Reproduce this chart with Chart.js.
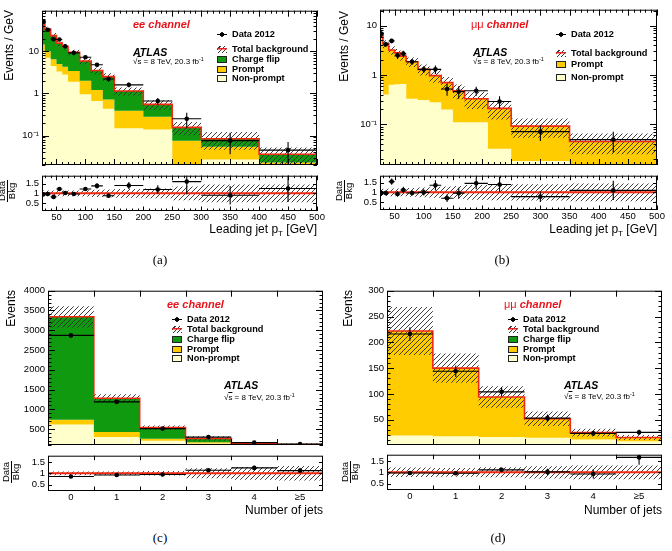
<!DOCTYPE html>
<html lang="en">
<head>
<meta charset="UTF-8">
<title>Same-sign dilepton control regions</title>
<script src="https://cdn.jsdelivr.net/npm/chart.js"></script>
<style>
  body { margin: 0; background: #fff; }
  #fig { position: relative; width: 672px; height: 551px; overflow: hidden; background: #fff;
         font-family: "Liberation Sans", Arial, sans-serif; color: #000; }
  #fig canvas { position: absolute; }
  .vt { position: absolute; writing-mode: vertical-rl; transform: rotate(180deg); font-size: 12px; line-height: 13px; white-space: nowrap; }
  .xt { position: absolute; font-size: 12px; line-height: 14px; white-space: nowrap; }
  .xt sub { font-size: 8px; vertical-align: -3px; line-height: 0; }
  .frac { position: absolute; width: 30px; height: 18px; transform: rotate(-90deg); font-size: 9.5px; line-height: 8.5px; text-align: center; }
  .frac span { display: inline-block; border-bottom: 1px solid #000; padding: 0 1px; line-height: 8.5px; }
  .cap { position: absolute; width: 24px; text-align: center; font: 13px "Liberation Serif", "Times New Roman", serif; line-height: 14px; color: #000; }
  .chan { position: absolute; color: #e8141b; font-style: italic; font-weight: bold; font-size: 11px; line-height: 13px; white-space: nowrap; }
  .chan span { font-style: normal; font-weight: normal; }
  .atlas { position: absolute; font-style: italic; font-weight: bold; font-size: 10.5px; line-height: 12px; }
  .lumi { position: absolute; font-size: 8px; line-height: 10px; white-space: nowrap; }
  .lumi sup { font-size: 5.5px; vertical-align: 3px; line-height: 0; }
  .ov { text-decoration: overline; }
  .lg { position: absolute; display: flex; align-items: center; height: 10px; font-weight: bold; font-size: 9.2px; white-space: nowrap; }
  .sym { display: inline-block; width: 10px; height: 7px; margin-right: 5px; box-sizing: border-box; }
  .box { border: 1px solid #222; }
  .dat { background: radial-gradient(circle, #000 0 2px, transparent 2.4px), linear-gradient(#000, #000) center / 100% 1px no-repeat; }
  .tot { background: linear-gradient(#e22, #e22) center / 100% 1.5px no-repeat, repeating-linear-gradient(-45deg, #333 0 1px, transparent 1px 3px); }
</style>
</head>
<body>
<div id="fig">
  <canvas id="mainA"></canvas><canvas id="ratioA"></canvas>
  <canvas id="mainB"></canvas><canvas id="ratioB"></canvas>
  <canvas id="mainC"></canvas><canvas id="ratioC"></canvas>
  <canvas id="mainD"></canvas><canvas id="ratioD"></canvas>

  <!-- (a) -->
  <div class="vt" style="left:3px;top:10px">Events / GeV</div>
  <div class="frac" style="left:-8px;top:182px"><span>Data</span><br>Bkg</div>
  <div class="xt" style="right:355px;top:222px">Leading jet p<sub>T</sub> [GeV]</div>
  <div class="cap" style="left:148px;top:253px">(a)</div>
  <div class="chan" style="left:133px;top:18px">ee channel</div>
  <div class="atlas" style="left:133px;top:46px">ATLAS</div>
  <div class="lumi" style="left:133px;top:57px">√<span class="ov">s</span> = 8 TeV, 20.3 fb<sup>-1</sup></div>
  <div class="lg" style="left:217px;top:29px"><i class="sym dat"></i>Data 2012</div>
  <div class="lg" style="left:217px;top:44px"><i class="sym tot"></i>Total background</div>
  <div class="lg" style="left:217px;top:54px"><i class="sym box" style="background:#109a10"></i>Charge flip</div>
  <div class="lg" style="left:217px;top:64px"><i class="sym box" style="background:#ffcc00"></i>Prompt</div>
  <div class="lg" style="left:217px;top:73px"><i class="sym box" style="background:#ffffcc"></i>Non-prompt</div>

  <!-- (b) -->
  <div class="vt" style="left:338px;top:11px">Events / GeV</div>
  <div class="frac" style="left:329px;top:182px"><span>Data</span><br>Bkg</div>
  <div class="xt" style="right:15px;top:222px">Leading jet p<sub>T</sub> [GeV]</div>
  <div class="cap" style="left:490px;top:253px">(b)</div>
  <div class="chan" style="left:471px;top:18px"><span>μμ</span> channel</div>
  <div class="atlas" style="left:473px;top:46px">ATLAS</div>
  <div class="lumi" style="left:473px;top:57px">√<span class="ov">s</span> = 8 TeV, 20.3 fb<sup>-1</sup></div>
  <div class="lg" style="left:556px;top:29px"><i class="sym dat"></i>Data 2012</div>
  <div class="lg" style="left:556px;top:48px"><i class="sym tot"></i>Total background</div>
  <div class="lg" style="left:556px;top:59px"><i class="sym box" style="background:#ffcc00"></i>Prompt</div>
  <div class="lg" style="left:556px;top:72px"><i class="sym box" style="background:#ffffcc"></i>Non-prompt</div>

  <!-- (c) -->
  <div class="vt" style="left:5px;top:290px">Events</div>
  <div class="frac" style="left:-4px;top:463px"><span>Data</span><br>Bkg</div>
  <div class="xt" style="right:349px;top:503px">Number of jets</div>
  <div class="cap" style="left:148px;top:531px">(c)</div>
  <div class="chan" style="left:167px;top:298px">ee channel</div>
  <div class="lg" style="left:172px;top:314px"><i class="sym dat"></i>Data 2012</div>
  <div class="lg" style="left:172px;top:324px"><i class="sym tot"></i>Total background</div>
  <div class="lg" style="left:172px;top:334px"><i class="sym box" style="background:#109a10"></i>Charge flip</div>
  <div class="lg" style="left:172px;top:344px"><i class="sym box" style="background:#ffcc00"></i>Prompt</div>
  <div class="lg" style="left:172px;top:353px"><i class="sym box" style="background:#ffffcc"></i>Non-prompt</div>
  <div class="atlas" style="left:224px;top:379px">ATLAS</div>
  <div class="lumi" style="left:224px;top:393px">√<span class="ov">s</span> = 8 TeV, 20.3 fb<sup>-1</sup></div>

  <!-- (d) -->
  <div class="vt" style="left:342px;top:290px">Events</div>
  <div class="frac" style="left:335px;top:463px"><span>Data</span><br>Bkg</div>
  <div class="xt" style="right:10px;top:503px">Number of jets</div>
  <div class="cap" style="left:486px;top:531px">(d)</div>
  <div class="chan" style="left:504px;top:298px"><span>μμ</span> channel</div>
  <div class="lg" style="left:508px;top:314px"><i class="sym dat"></i>Data 2012</div>
  <div class="lg" style="left:508px;top:324px"><i class="sym tot"></i>Total background</div>
  <div class="lg" style="left:508px;top:334px"><i class="sym box" style="background:#109a10"></i>Charge flip</div>
  <div class="lg" style="left:508px;top:344px"><i class="sym box" style="background:#ffcc00"></i>Prompt</div>
  <div class="lg" style="left:508px;top:353px"><i class="sym box" style="background:#ffffcc"></i>Non-prompt</div>
  <div class="atlas" style="left:564px;top:379px">ATLAS</div>
  <div class="lumi" style="left:564px;top:392px">√<span class="ov">s</span> = 8 TeV, 20.3 fb<sup>-1</sup></div>
</div>

<script>
// ---- (a) ee channel, leading jet pT (events / GeV) ----
const edgesA = [25, 30, 40, 50, 60, 70, 90, 110, 130, 150, 200, 250, 300, 400, 500];
const nonPromptA = [10, 7, 4.5, 3.3, 2.8, 1.9, 0.95, 0.66, 0.43, 0.15, 0.14, 0.02, 0.027, 0.02];
const promptA = [4.5, 3, 2, 1.7, 1.5, 1.5, 1.05, 0.54, 0.29, 0.24, 0.14, 0.055, 0.027, 0.003];
const chargeFlipA = [38.5, 23.5, 17, 10.6, 8.6, 6.1, 3.9, 2.3, 1.78, 0.75, 0.27, 0.081, 0.03, 0.013];
const systA = [0.15, 0.15, 0.15, 0.15, 0.15, 0.15, 0.16, 0.18, 0.2, 0.22, 0.25, 0.35, 0.45, 0.45];
const dataA = [50, 32.5, 19.3, 19, 13.2, 9.2, 7.2, 4.8, 2.2, 1.6, 0.66, 0.25, 0.076, 0.045];
const dataErrA = [3, 2, 1.5, 1.4, 1.1, 0.6, 0.6, 0.45, 0.3, 0.2, 0.12, 0.1, 0.04, 0.025];
const ratioA = [0.95, 0.97, 0.82, 1.22, 1.02, 0.97, 1.22, 1.38, 0.88, 1.4, 1.2, 1.6, 0.9, 1.25];

// ---- (b) mumu channel, leading jet pT ----
const edgesB = [25, 30, 40, 50, 60, 70, 90, 110, 130, 150, 170, 210, 250, 350, 500];
const nonPromptB = [0.78, 0.40, 0.63, 0.65, 0.66, 0.33, 0.31, 0.28, 0.2, 0.11, 0.11, 0.032, 0.018, 0.014];
const promptB = [6.22, 3.9, 2.57, 2.15, 1.74, 1.52, 0.99, 0.69, 0.5, 0.37, 0.22, 0.178, 0.074, 0.031];
const systB = [0.18, 0.18, 0.2, 0.2, 0.2, 0.22, 0.25, 0.28, 0.3, 0.33, 0.38, 0.4, 0.42, 0.45];
const dataB = [6.8, 4.2, 4.9, 2.5, 2.7, 1.85, 1.3, 1.3, 0.52, 0.46, 0.48, 0.29, 0.071, 0.049];
const dataErrB = [0.9, 0.5, 0.5, 0.4, 0.4, 0.25, 0.2, 0.25, 0.14, 0.13, 0.1, 0.08, 0.025, 0.022];
const ratioB = [0.97, 0.97, 1.55, 0.92, 1.12, 0.97, 1.0, 1.36, 0.7, 0.96, 1.46, 1.4, 0.78, 1.1];

// ---- (c) ee channel, number of jets ----
const edgesJets = [-0.5, 0.5, 1.5, 2.5, 3.5, 4.5, 5.5];
const nonPromptC = [620, 300, 207, 140, 55, 50];
const promptC = [120, 130, 54, 30, 15, 12];
const chargeFlipC = [2600, 850, 279, 95, 60, 47];
const systC = [0.08, 0.08, 0.1, 0.22, 0.28, 0.32];
const dataC = [2870, 1190, 515, 300, 160, 122];
const dataErrC = [54, 35, 23, 17, 13, 11];
const ratioC = [0.86, 0.93, 0.95, 1.14, 1.24, 1.12];

// ---- (d) mumu channel, number of jets ----
const nonPromptD = [19.5, 18, 16.5, 15, 11.5, 8.5];
const promptD = [202.5, 132, 77.5, 37, 13.5, 7];
const systD = [0.21, 0.19, 0.22, 0.27, 0.3, 0.3];
const dataD = [216, 144, 104, 53, 23.5, 25.5];
const dataErrD = [13, 11, 9, 7, 5, 5];
const ratioD = [0.97, 0.96, 1.11, 1.02, 0.93, 1.66];

// ---- tick labels ----
const ptTicks = [50, 100, 150, 200, 250, 300, 350, 400, 450, 500];
const ptTickLabels = ['50', '100', '150', '200', '250', '300', '350', '400', '450', '500'];
const jetTicks = [0, 1, 2, 3, 4, 5];
const jetTickLabels = ['0', '1', '2', '3', '4', '≥5'];
const logTicks = [0.1, 1, 10];
const logTickLabels = ['10⁻¹', '1', '10'];
const ratioTicks = [0.5, 1, 1.5];
const ratioTickLabels = ['0.5', '1', '1.5'];
const eventTicksC = [500, 1000, 1500, 2000, 2500, 3000, 3500, 4000];
const eventTickLabelsC = ['500', '1000', '1500', '2000', '2500', '3000', '3500', '4000'];
const eventTicksD = [50, 100, 150, 200, 250, 300];
const eventTickLabelsD = ['50', '100', '150', '200', '250', '300'];

const FONT = '"Liberation Sans", Arial, sans-serif';
const GREEN = '#109a10', YELLOW = '#ffcc00', CREAM = '#ffffcc', RED = '#f02a12';
const NONE = 'rgba(0,0,0,0)';

function makeHatch() {
  const c = document.createElement('canvas');
  c.width = c.height = 5;
  const g = c.getContext('2d');
  g.strokeStyle = '#2a2a2a';
  g.lineWidth = 0.9;
  g.beginPath();
  g.moveTo(0, 5); g.lineTo(5, 0);
  g.moveTo(-1, 1); g.lineTo(1, -1);
  g.moveTo(4, 6); g.lineTo(6, 4);
  g.stroke();
  return g.createPattern(c, 'repeat');
}
const HATCH = makeHatch();

// canvas placement around a plot frame
function place(id, fr, ratio) {
  const m = { L: 40, T: 8, R: 14, B: ratio ? 16 : 8 };
  const cv = document.getElementById(id);
  const w = fr.r - fr.l + m.L + m.R, h = fr.b - fr.t + m.T + m.B;
  cv.width = w; cv.height = h;
  cv.style.left = (fr.l - m.L) + 'px';
  cv.style.top = (fr.t - m.T) + 'px';
  cv.style.width = w + 'px';
  cv.style.height = h + 'px';
  return { cv, m };
}

function linMarks(a, b, step) {
  const out = [];
  for (let k = Math.ceil(a / step - 1e-9); k * step <= b + 1e-9; k++) out.push(+(k * step).toFixed(6));
  return out;
}
function logMarks(a, b) {
  const maj = [], min = [];
  for (let e = Math.floor(Math.log10(a)); e <= Math.ceil(Math.log10(b)); e++) {
    for (let k = 1; k < 10; k++) {
      const v = k * Math.pow(10, e);
      if (v < a * 0.999 || v > b * 1.001) continue;
      (k === 1 ? maj : min).push(v);
    }
  }
  return { maj, min };
}

// frame with inward ticks on all four sides
function framePlugin(mk) {
  return {
    id: 'frame',
    afterDatasetsDraw(chart) {
      const { ctx, chartArea: a, scales } = chart;
      ctx.save();
      ctx.strokeStyle = '#000';
      ctx.lineWidth = 1;
      ctx.beginPath();
      const tick = (axis, vals, len) => {
        (vals || []).forEach(v => {
          if (axis === 'x') {
            const p = Math.round(scales.x.getPixelForValue(v)) + 0.5;
            ctx.moveTo(p, a.bottom); ctx.lineTo(p, a.bottom - len);
            ctx.moveTo(p, a.top); ctx.lineTo(p, a.top + len);
          } else {
            const p = Math.round(scales.y.getPixelForValue(v)) + 0.5;
            ctx.moveTo(a.left, p); ctx.lineTo(a.left + len, p);
            ctx.moveTo(a.right, p); ctx.lineTo(a.right - len, p);
          }
        });
      };
      tick('x', mk.xMajor, mk.xLen[0]);
      tick('x', mk.xMinor, mk.xLen[1]);
      tick('y', mk.yMajor, mk.yLen[0]);
      tick('y', mk.yMinor, mk.yLen[1]);
      ctx.stroke();
      ctx.strokeRect(a.left + 0.5, a.top + 0.5, a.right - a.left - 1, a.bottom - a.top - 1);
      ctx.restore();
    }
  };
}

function steps(edges, vals) {
  const pts = vals.map((v, i) => ({ x: edges[i], y: v }));
  pts.push({ x: edges[edges.length - 1], y: vals[vals.length - 1] });
  return pts;
}
function centers(edges, vals) {
  return vals.map((v, i) => ({ x: (edges[i] + edges[i + 1]) / 2, y: v }));
}
function errorBars(edges, vals, errs) {
  const pts = [];
  vals.forEach((v, i) => {
    const c = (edges[i] + edges[i + 1]) / 2;
    pts.push({ x: c, y: v - errs[i] }, { x: c, y: v + errs[i] }, { x: c, y: null });
    pts.push({ x: edges[i], y: v }, { x: edges[i + 1], y: v }, { x: c, y: null });
  });
  return pts;
}

function area(edges, vals, fill, color, order) {
  return { data: steps(edges, vals), stepped: true, fill: fill, backgroundColor: color || NONE,
           borderColor: NONE, borderWidth: 0, order: order, clip: 0 };
}
function dataSets(edges, vals, errs) {
  return [
    { data: errorBars(edges, vals, errs), borderColor: '#000', borderWidth: 1.1, fill: false, order: 2, clip: 0 },
    { data: centers(edges, vals), showLine: false, pointRadius: 2.3, pointBackgroundColor: '#000',
      pointBorderWidth: 0, order: 1, clip: 0 }
  ];
}

function options(m, xr, yr, yType, yTicks, yLabels, xTicks, xLabels) {
  const tickFont = { family: FONT, size: 9.5 };
  return {
    responsive: false, animation: false, devicePixelRatio: 1,
    layout: { padding: { left: 0, top: m.T, right: m.R, bottom: xLabels ? 0 : m.B } },
    plugins: { legend: { display: false }, tooltip: { enabled: false } },
    elements: { point: { radius: 0 }, line: { tension: 0 } },
    scales: {
      x: {
        type: 'linear', min: xr[0], max: xr[1], bounds: 'data', display: !!xLabels,
        grid: { display: false, drawTicks: false }, border: { display: false },
        afterFit: s => { s.height = m.B; },
        afterBuildTicks: s => { s.ticks = (xTicks || []).map(v => ({ value: v })); },
        ticks: { autoSkip: false, maxRotation: 0, padding: 1, color: '#000', font: tickFont,
                 callback: (v, i) => xLabels ? xLabels[i] : '' }
      },
      y: {
        type: yType, min: yr[0], max: yr[1], bounds: 'data',
        grid: { display: false, drawTicks: false }, border: { display: false },
        afterFit: s => { s.width = m.L; },
        afterBuildTicks: s => { s.ticks = yTicks.map(v => ({ value: v })); },
        ticks: { autoSkip: false, padding: 3, color: '#000', font: tickFont, callback: (v, i) => yLabels[i] }
      }
    }
  };
}

function mainChart(id, fr, p) {
  const { cv, m } = place(id, fr, false);
  const lvl1 = p.nonPrompt;
  const lvl2 = lvl1.map((v, i) => v + p.prompt[i]);
  const total = p.flip ? lvl2.map((v, i) => v + p.flip[i]) : lvl2;
  const ds = [area(p.edges, lvl1, 'start', CREAM, 10), area(p.edges, lvl2, '-1', YELLOW, 9)];
  if (p.flip) ds.push(area(p.edges, total, '-1', GREEN, 8));
  ds.push(area(p.edges, total.map((v, i) => v * (1 - p.syst[i])), false, null, 7));
  ds.push(area(p.edges, total.map((v, i) => v * (1 + p.syst[i])), '-1', HATCH, 6));
  ds.push({ data: steps(p.edges, total), stepped: true, fill: false, borderColor: RED, borderWidth: 1.6, order: 5, clip: 0 });
  ds.push(...dataSets(p.edges, p.data, p.err));
  new Chart(cv, {
    type: 'line', data: { datasets: ds },
    options: options(m, p.xr, p.yr, p.yType, p.yTicks, p.yLabels, null, null),
    plugins: [framePlugin(p.marks)]
  });
}

function ratioChart(id, fr, p) {
  const { cv, m } = place(id, fr, true);
  const rErr = p.ratio.map((r, i) => r * p.err[i] / p.data[i]);
  const ds = [
    area(p.edges, p.syst.map(u => 1 - u), false, null, 7),
    area(p.edges, p.syst.map(u => 1 + u), '-1', HATCH, 6),
    { data: [{ x: p.xr[0], y: 1 }, { x: p.xr[1], y: 1 }], fill: false, borderColor: RED, borderWidth: 2, order: 5, clip: 0 },
    ...dataSets(p.edges, p.ratio, rErr)
  ];
  new Chart(cv, {
    type: 'line', data: { datasets: ds },
    options: options(m, p.xr, p.yr, 'linear', ratioTicks, ratioTickLabels, p.xTicks, p.xLabels),
    plugins: [framePlugin(p.marks)]
  });
}

const ptXMarks = { xMajor: linMarks(25, 500, 50), xMinor: linMarks(25, 500, 10) };
const jetXMarks = { xMajor: [0.5, 1.5, 2.5, 3.5, 4.5], xMinor: [] };

function panel(ids, frames, p) {
  mainChart(ids[0], frames[0], Object.assign({}, p, {
    marks: Object.assign({ xLen: [6, 3], yLen: [7, 3.5] }, p.xMarks, p.yMarks)
  }));
  ratioChart(ids[1], frames[1], Object.assign({}, p, {
    yr: p.ryr,
    marks: Object.assign({ xLen: [4.5, 2.5], yLen: [4, 2] }, p.xMarks, { yMajor: ratioTicks, yMinor: [] })
  }));
}

const logA = logMarks(0.02, 92), logB = logMarks(0.015, 21);

panel(['mainA', 'ratioA'], [{ l: 42, t: 10, r: 317, b: 173 }, { l: 42, t: 175, r: 317, b: 211 }], {
  edges: edgesA, nonPrompt: nonPromptA, prompt: promptA, flip: chargeFlipA, syst: systA,
  data: dataA, err: dataErrA, ratio: ratioA,
  xr: [25, 500], yr: [0.02, 92], ryr: [0.1, 1.9], yType: 'logarithmic',
  yTicks: logTicks, yLabels: logTickLabels, xTicks: ptTicks, xLabels: ptTickLabels,
  xMarks: ptXMarks, yMarks: { yMajor: logA.maj, yMinor: logA.min }
});

panel(['mainB', 'ratioB'], [{ l: 380, t: 9, r: 657, b: 173 }, { l: 380, t: 175, r: 657, b: 210 }], {
  edges: edgesB, nonPrompt: nonPromptB, prompt: promptB, flip: null, syst: systB,
  data: dataB, err: dataErrB, ratio: ratioB,
  xr: [25, 500], yr: [0.015, 21], ryr: [0.1, 1.85], yType: 'logarithmic',
  yTicks: logTicks, yLabels: logTickLabels, xTicks: ptTicks, xLabels: ptTickLabels,
  xMarks: ptXMarks, yMarks: { yMajor: logB.maj, yMinor: logB.min }
});

panel(['mainC', 'ratioC'], [{ l: 48, t: 290, r: 323, b: 453 }, { l: 48, t: 455, r: 323, b: 491 }], {
  edges: edgesJets, nonPrompt: nonPromptC, prompt: promptC, flip: chargeFlipC, syst: systC,
  data: dataC, err: dataErrC, ratio: ratioC,
  xr: [-0.5, 5.5], yr: [100, 4000], ryr: [0.22, 1.78], yType: 'linear',
  yTicks: eventTicksC, yLabels: eventTickLabelsC, xTicks: jetTicks, xLabels: jetTickLabels,
  xMarks: jetXMarks, yMarks: { yMajor: eventTicksC, yMinor: linMarks(100, 4000, 100) }
});

panel(['mainD', 'ratioD'], [{ l: 387, t: 290, r: 662, b: 453 }, { l: 387, t: 454, r: 662, b: 490 }], {
  edges: edgesJets, nonPrompt: nonPromptD, prompt: promptD, flip: null, syst: systD,
  data: dataD, err: dataErrD, ratio: ratioD,
  xr: [-0.5, 5.5], yr: [1, 300], ryr: [0.22, 1.78], yType: 'linear',
  yTicks: eventTicksD, yLabels: eventTickLabelsD, xTicks: jetTicks, xLabels: jetTickLabels,
  xMarks: jetXMarks, yMarks: { yMajor: eventTicksD, yMinor: linMarks(10, 300, 10) }
});
</script>
</body>
</html>
